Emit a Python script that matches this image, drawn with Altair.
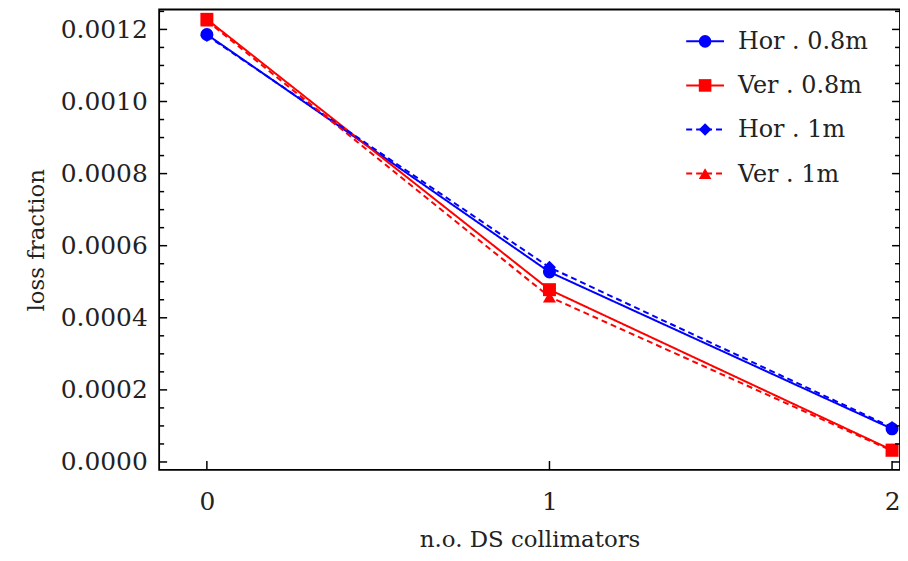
import altair as alt
import pandas as pd

# ---- data ----
collimators = [0, 1, 2]
series_names = ["Hor . 0.8m", "Ver . 0.8m", "Hor . 1m", "Ver . 1m"]
hor_08 = [0.001186, 0.000527, 0.000092]
ver_08 = [0.001228, 0.000478, 0.000033]
hor_1 = [0.001183, 0.000540, 0.000096]
ver_1 = [0.001224, 0.000458, 0.000031]

y_major = [0.0, 0.0002, 0.0004, 0.0006, 0.0008, 0.0010, 0.0012]
y_minor = [0.00005, 0.0001, 0.00015, 0.00025, 0.0003, 0.00035, 0.00045, 0.0005,
           0.00055, 0.00065, 0.0007, 0.00075, 0.00085, 0.0009, 0.00095,
           0.00105, 0.0011, 0.00115, 0.00125]
x_major = [0, 1, 2]

colors = ["#0000ff", "#ff0000", "#0000ff", "#ff0000"]
shapes = ["circle", "square", "diamond", "triangle-up"]
dashes = [[1, 0], [1, 0], [6, 4], [6, 4]]
legend_dashes = [[1, 0], [1, 0], [10, 18], [10, 18]]
widths = [2, 2, 1.5, 1.5]

rows = []
for name, vals in zip(series_names, [hor_08, ver_08, hor_1, ver_1]):
    for x, v in zip(collimators, vals):
        rows.append({"n": x, "loss": v, "series": name})
df = pd.DataFrame(rows)
order_map = {"Hor . 1m": 0, "Ver . 1m": 1, "Hor . 0.8m": 2, "Ver . 0.8m": 3}
df["ord"] = df["series"].map(order_map)
legdf = pd.DataFrame({"series": series_names})

W, H = 745, 463
FONT = "DejaVu Serif"

xs = alt.Scale(domain=[-0.1393, 2.0232], nice=False, zero=False)
ys = alt.Scale(domain=[-0.0000221, 0.0012552], nice=False, zero=False)
cs = alt.Scale(domain=series_names, range=colors)
color_enc = alt.Color("series:N", scale=cs, legend=None)

x_enc = alt.X("n:Q", scale=xs,
              axis=alt.Axis(values=x_major, format="d", ticks=False, domain=False, grid=False,
                            labelPadding=20, title="n.o. DS collimators", titlePadding=14))
y_enc = alt.Y("loss:Q", scale=ys,
              axis=alt.Axis(values=y_major, format=".4f", ticks=False, domain=False, grid=False,
                            labelPadding=12, title="loss fraction", titlePadding=12))

lines = alt.Chart(df).mark_line().encode(
    x=x_enc, y=y_enc, color=color_enc,
    strokeDash=alt.StrokeDash("series:N", scale=alt.Scale(domain=series_names, range=dashes), legend=None),
    strokeWidth=alt.StrokeWidth("series:N", scale=alt.Scale(domain=series_names, range=widths), legend=None),
    detail="series:N",
    order="ord:Q",
)

# data markers, one layer per series (dashed series underneath)
point_layers = []
for name in ["Hor . 1m", "Ver . 1m", "Hor . 0.8m", "Ver . 0.8m"]:
    i = series_names.index(name)
    point_layers.append(
        alt.Chart(df).transform_filter(alt.datum.series == name).mark_point(
            filled=True, opacity=1, size=170, shape=shapes[i]
        ).encode(
            x=alt.X("n:Q", scale=xs),
            y=alt.Y("loss:Q", scale=ys),
            color=color_enc,
        )
    )

ymaj = pd.DataFrame({"v": y_major})
ymin = pd.DataFrame({"v": y_minor})
xmaj = pd.DataFrame({"v": x_major})

def ytick(data, x0, x1):
    return alt.Chart(data).mark_rule(color="black", strokeWidth=1.5).encode(
        y=alt.Y("v:Q", scale=ys), x=alt.value(x0), x2=alt.value(x1))

tick_layers = [
    ytick(ymaj, 0, 8), ytick(ymin, 0, 5),
    ytick(ymaj, W - 8, W), ytick(ymin, W - 5, W),
    alt.Chart(xmaj).mark_rule(color="black", strokeWidth=1.5).encode(
        x=alt.X("v:Q", scale=xs), y=alt.value(H), y2=alt.value(H - 9)),
]

main = alt.layer(lines, *point_layers, *tick_layers)

# legend drawn in the upper right, rows placed by a point scale
ly = alt.Y("series:N", scale=alt.Scale(type="point", domain=series_names, range=[32, 165], padding=0),
           axis=None, sort=series_names)
leg_lines = alt.Chart(legdf).mark_rule(strokeWidth=2).encode(
    y=ly, x=alt.value(530), x2=alt.value(568), color=color_enc,
    strokeDash=alt.StrokeDash("series:N", scale=alt.Scale(domain=series_names, range=legend_dashes), legend=None),
)
leg_pts = alt.Chart(legdf).mark_point(filled=True, opacity=1, size=160).encode(
    y=ly, x=alt.value(549), color=color_enc,
    shape=alt.Shape("series:N", scale=alt.Scale(domain=series_names, range=shapes), legend=None),
)
leg_txt = alt.Chart(legdf).mark_text(align="left", baseline="middle", font=FONT, fontSize=24,
                                     color="#222", dy=1).encode(
    y=ly, x=alt.value(582), text="series:N",
)
legend = alt.layer(leg_lines, leg_pts, leg_txt)

chart = alt.layer(main, legend).resolve_scale(y="independent").properties(
    width=W, height=H,
    autosize=alt.AutoSizeParams(type="none"),
    padding={"left": 152, "top": 0, "right": 0, "bottom": 82},
).configure_view(
    stroke="black", strokeWidth=1.8
).configure_axis(
    labelFont=FONT, labelFontSize=25, labelColor="#222",
    titleFont=FONT, titleFontSize=23, titleColor="#222", titleFontWeight="normal",
)

chart.save("out.html", embed_options={"renderer": "svg", "actions": False})
